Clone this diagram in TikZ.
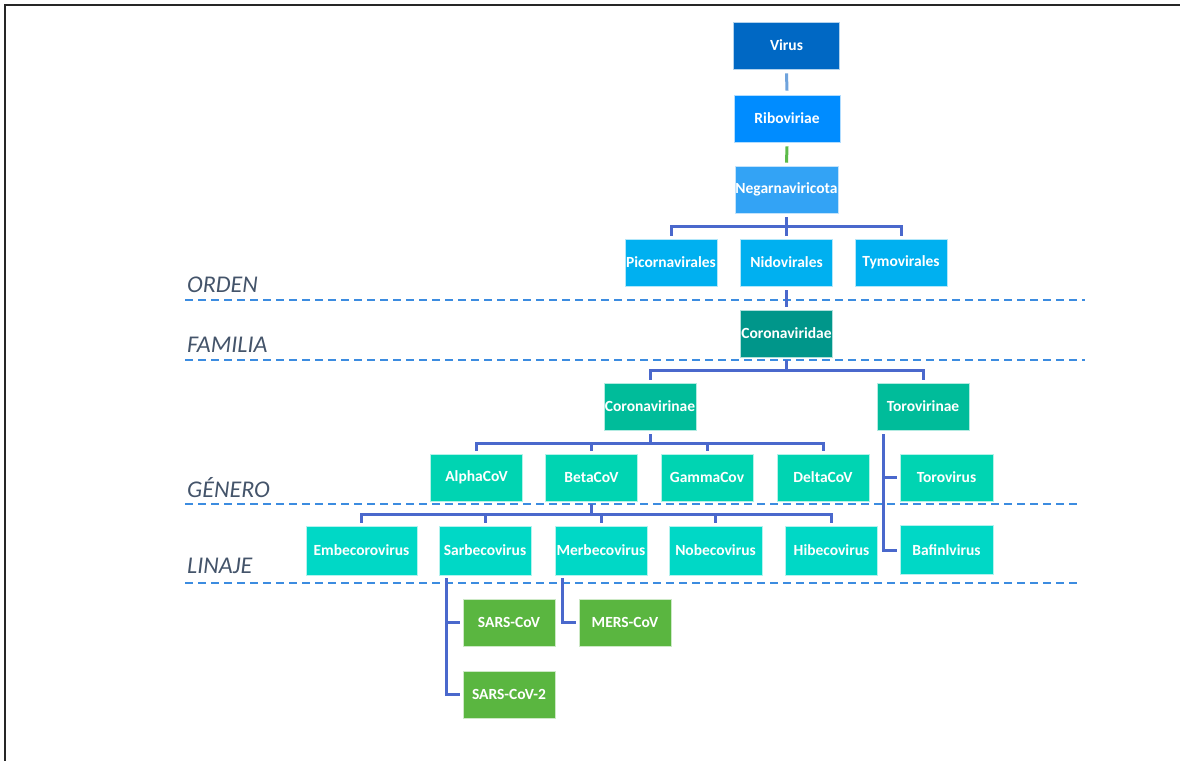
\documentclass[tikz,border=0pt]{standalone}
\usepackage{fontspec}
\setmainfont{Carlito}
\definecolor{virusc}{HTML}{0068C4}
\definecolor{riboc}{HTML}{008CFF}
\definecolor{negc}{HTML}{33A3F5}
\definecolor{ordc}{HTML}{00B0F0}
\definecolor{famc}{HTML}{00968A}
\definecolor{subc}{HTML}{00BC9A}
\definecolor{genc}{HTML}{00D4B2}
\definecolor{linc}{HTML}{00D8C6}
\definecolor{spc}{HTML}{5AB640}
\definecolor{connc}{HTML}{4A68CC}
\definecolor{dashc}{HTML}{3C8CE0}
\definecolor{rankc}{HTML}{44546A}
\definecolor{linkb}{HTML}{6FA3DC}
\definecolor{linkg}{HTML}{5DBB4A}
\begin{document}
\begin{tikzpicture}[x=1pt,y=-1pt,
  box/.style={draw=white!70!#1,line width=0.6pt,fill=#1,text=white,minimum width=92pt,minimum height=47pt,inner sep=0pt,
    font=\fontsize{15.5}{17}\selectfont\bfseries},
  conn/.style={draw=connc,line width=3pt},
  rankline/.style={draw=dashc,line width=1.8pt,dash pattern=on 8pt off 5pt},
  ranklab/.style={text=rankc,anchor=base west,inner sep=0pt,font=\fontsize{24}{28}\selectfont\itshape}]
\useasboundingbox (0,0) rectangle (1180,761);
% frame
\draw[line width=2pt,draw=black!85] (1180,5) -- (5,5) -- (5,761);
% rank lines and labels
\node[ranklab] (lorden) at (187,292) {ORDEN};
\node[ranklab] (lfam) at (187,352) {FAMILIA};
\node[ranklab] (lgen) at (187,497) {GÉNERO};
\node[ranklab] (llin) at (187,573) {LINAJE};
\coordinate (d1a) at (185,300); \coordinate (d1b) at (1085,300);
\coordinate (d2a) at (185,360); \coordinate (d2b) at (1085,360);
\coordinate (d3a) at (185,504); \coordinate (d3b) at (1077,504);
\coordinate (d4a) at (185,583); \coordinate (d4b) at (1077,583);
\draw[rankline] (d1a) -- (d1b);
\draw[rankline] (d2a) -- (d2b);
\draw[rankline] (d3a) -- (d3b);
\draw[rankline] (d4a) -- (d4b);
% nodes
\node[box=virusc,minimum width=106pt] (virus) at (786.5,45.5) {Virus};
\node[box=riboc,minimum width=106pt] (ribo) at (787,118.5) {Riboviriae};
\node[box=negc,minimum width=103pt] (neg) at (786.5,189.5) {Negarnaviricota};
\node[box=ordc] (pico) at (671,262.5) {Picornavirales};
\node[box=ordc] (nido) at (786.5,262.5) {Nidovirales};
\node[box=ordc] (tymo) at (901,262.5) {Tymovirales};
\node[box=famc] (coronav) at (786.5,333.5) {Coronaviridae};
\node[box=subc] (corvir) at (650,406.5) {Coronavirinae};
\node[box=subc] (torvir) at (923,406.5) {Torovirinae};
\node[box=genc] (alpha) at (476.5,477.5) {AlphaCoV};
\node[box=genc] (beta) at (591.5,477.5) {BetaCoV};
\node[box=genc] (gamma) at (707,477.5) {GammaCov};
\node[box=genc] (delta) at (823,477.5) {DeltaCoV};
\node[box=genc,minimum width=93pt] (torov) at (946.5,477.5) {Torovirus};
\node[box=linc,minimum width=111pt,minimum height=49pt] (embe) at (361.5,550.5) {Embecorovirus};
\node[box=linc,minimum height=49pt] (sarbe) at (485,550.5) {Sarbecovirus};
\node[box=linc,minimum height=49pt] (merbe) at (601,550.5) {Merbecovirus};
\node[box=linc,minimum width=93pt,minimum height=49pt] (nobe) at (715.5,550.5) {Nobecovirus};
\node[box=linc,minimum height=49pt] (hibe) at (831.5,550.5) {Hibecovirus};
\node[box=linc,minimum width=93pt,minimum height=49pt] (bafin) at (946.5,550) {Bafinlvirus};
\node[box=spc] (sars) at (509,622.5) {SARS-CoV};
\node[box=spc] (sars2) at (509,694.5) {SARS-CoV-2};
\node[box=spc] (mers) at (625,622.5) {MERS-CoV};
% bus levels
\coordinate (b1) at (0,226);
\coordinate (b2) at (0,370);
\coordinate (b3) at (0,443);
\coordinate (b4) at (0,514);
% connectors
\draw[draw=linkb,line width=3pt] ([yshift=-4pt]virus.south) -- ([yshift=4pt]ribo.north);
\draw[draw=linkg,line width=3pt] ([yshift=-4pt]ribo.south) -- ([yshift=3pt]neg.north);
\foreach \t in {pico,nido,tymo}
  \draw[conn] ([yshift=-4pt]neg.south) -- (neg.south |- b1) -| ([yshift=3pt]\t.north);
\draw[conn] ([yshift=-4pt]nido.south) -- ([yshift=3pt]coronav.north);
\foreach \t in {corvir,torvir}
  \draw[conn] ([yshift=-3pt]coronav.south) -- (coronav.south |- b2) -| ([yshift=3pt]\t.north);
\foreach \t in {alpha,beta,gamma,delta}
  \draw[conn] ([yshift=-4pt]corvir.south) -- (corvir.south |- b3) -| ([yshift=3pt]\t.north);
\foreach \t in {embe,sarbe,merbe,nobe,hibe}
  \draw[conn] ([yshift=-3pt]beta.south) -- (beta.south |- b4) -| ([yshift=3pt]\t.north);
\foreach \t in {torov,bafin}
  \draw[conn] ([xshift=7pt,yshift=-4pt]torvir.south west) |- ([xshift=-3pt]\t.west);
\foreach \t in {sars,sars2}
  \draw[conn] ([xshift=8pt,yshift=-3pt]sarbe.south west) |- ([xshift=-3pt]\t.west);
\draw[conn] ([xshift=8pt,yshift=-3pt]merbe.south west) |- ([xshift=-3pt]mers.west);
\end{tikzpicture}
\end{document}
